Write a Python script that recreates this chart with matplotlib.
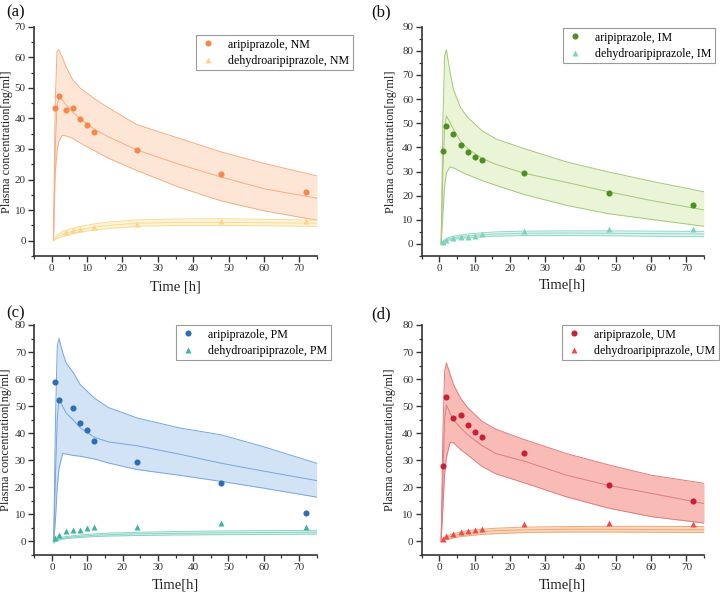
import matplotlib
matplotlib.use("Agg")
import matplotlib.pyplot as plt
from matplotlib.ticker import MultipleLocator

plt.rcParams['font.family'] = ['Liberation Serif', 'DejaVu Serif']

# ---------------- data ----------------
t_obs = [1, 2, 4, 6, 8, 10, 12, 24, 48, 72]
t_obs_a_dh = [4, 6, 8, 12, 24, 48, 72]

aripip_NM = [43.5, 47.3, 42.9, 43.5, 39.8, 37.7, 35.4, 29.8, 21.8, 16.0]
dehydro_NM = [3.0, 3.6, 3.8, 4.6, 5.6, 6.6, 6.3]
aripip_IM = [38.5, 48.8, 45.5, 40.9, 38.2, 35.9, 34.9, 29.3, 21.3, 16.3]
dehydro_IM = [1.0, 1.8, 2.5, 2.8, 2.9, 3.3, 4.0, 5.2, 6.0, 6.3]
aripip_PM = [58.9, 52.4, None, 49.5, 43.6, 41.1, 37.0, 29.4, 21.5, 10.5]
dehydro_PM = [1.3, 2.3, 3.7, 4.3, 4.3, 4.9, 5.3, 5.5, 7.0, 5.3]
aripip_UM = [27.8, 53.3, 45.8, 46.9, 43.0, 40.5, 38.5, 32.7, 20.9, 15.1]
dehydro_UM = [0.9, 2.1, 2.7, 3.6, 3.8, 4.1, 4.7, 6.5, 6.9, 6.6]

# simulated curves
t_sim = [0.5, 1, 1.5, 2, 3, 4, 6, 8, 12, 16, 24, 36, 48, 60, 75]

NM_up = [0, 45, 62, 62.5, 60, 57, 52.5, 50, 46.5, 43.5, 38, 33.5, 29, 25.3, 21.2]
NM_med = [0, 30, 44, 47, 46, 44.5, 42, 40, 36.5, 34, 29.7, 25, 20.8, 17, 13.9]
NM_lo = [0, 22, 29, 32.5, 34.5, 34.3, 33.5, 32, 29.5, 27, 23, 17.5, 13, 9.8, 6.7]
NMd_up = [0, 1.2, 1.8, 2.3, 2.9, 3.4, 4.1, 4.7, 5.5, 6.1, 6.8, 7.1, 7.2, 7.0, 6.7]
NMd_med = [0, 0.8, 1.2, 1.6, 2.0, 2.4, 3.1, 3.6, 4.4, 5.0, 5.7, 6.0, 6.0, 5.9, 5.7]
NMd_lo = [0, 0.4, 0.7, 1.0, 1.3, 1.6, 2.3, 2.8, 3.5, 4.0, 4.7, 5.0, 5.0, 4.9, 4.7]

IM_up = [0, 50, 78, 80.5, 71.5, 64, 56.5, 52.5, 47, 43.5, 39.5, 34, 29.8, 26, 21.6]
IM_med = [0, 30, 48, 53, 50.5, 47.5, 42.5, 39.5, 35.5, 33, 29.3, 25.5, 21.6, 18, 14.1]
IM_lo = [0, 12, 24, 29.5, 31.9, 31.5, 30, 28.7, 26.3, 24.3, 20.5, 16, 12.5, 10.2, 7.3]
IMd_up = [0, 1.1, 1.7, 2.2, 2.8, 3.2, 3.7, 4.1, 4.6, 5.0, 5.3, 5.4, 5.4, 5.3, 5.2]
IMd_med = [0, 0.8, 1.3, 1.7, 2.2, 2.5, 3.0, 3.3, 3.8, 4.1, 4.4, 4.5, 4.4, 4.3, 4.1]
IMd_lo = [0, 0.5, 0.9, 1.2, 1.6, 1.9, 2.3, 2.6, 3.0, 3.2, 3.5, 3.5, 3.4, 3.2, 3.0]

PM_up = [0, 45, 72, 75, 70, 66, 62.5, 58, 53, 49.5, 45.7, 42, 39.4, 35, 28.9]
PM_med = [0, 25, 45, 53, 50, 47.5, 45, 42, 38.5, 36.8, 35.4, 32.3, 28.9, 26, 22.5]
PM_lo = [0, 8, 20, 27, 32.5, 32.3, 31.8, 31.5, 30.5, 29, 26.6, 24.5, 22.2, 19.7, 16.4]
PMd_up = [0, 0.7, 1.0, 1.3, 1.6, 1.8, 2.1, 2.4, 2.8, 3.1, 3.4, 3.7, 3.9, 4.0, 4.1]
PMd_med = [-0.3, 0.4, 0.7, 0.9, 1.2, 1.4, 1.7, 1.9, 2.3, 2.5, 2.8, 3.0, 3.2, 3.3, 3.4]
PMd_lo = [-0.6, 0.0, 0.3, 0.5, 0.8, 1.0, 1.3, 1.5, 1.8, 2.0, 2.2, 2.4, 2.5, 2.6, 2.7]

UM_up = [0, 40, 63, 66, 62, 58, 53, 49.5, 44.5, 41.5, 37.7, 32.5, 28.3, 24.5, 21.5]
UM_med = [0, 25, 45, 50.5, 47.5, 45, 42, 39.5, 35.5, 32.5, 29.7, 24.5, 20.7, 17.8, 14.0]
UM_lo = [0, 12, 25, 31, 36.5, 36.5, 34, 32, 27.8, 25, 21.7, 16.5, 12.3, 9.2, 6.8]
UMd_up = [0, 1.1, 1.6, 2.0, 2.5, 2.9, 3.5, 4.0, 4.5, 4.9, 5.3, 5.5, 5.6, 5.6, 5.5]
UMd_med = [0, 0.7, 1.1, 1.4, 1.8, 2.1, 2.7, 3.1, 3.6, 4.0, 4.3, 4.5, 4.5, 4.4, 4.3]
UMd_lo = [0, 0.3, 0.5, 0.7, 1.0, 1.3, 1.8, 2.1, 2.6, 2.9, 3.3, 3.5, 3.5, 3.4, 3.3]

W, H = 720, 594
fig = plt.figure(figsize=(7.2, 5.94), dpi=100)


def make_ax(left, right, top, bottom):
    return fig.add_axes([left / W, 1 - bottom / H, (right - left) / W, (bottom - top) / H])


panels = [
    dict(box=(34, 317, 26.7, 256), ylim=(-5, 70), letter='(a)', lpos=(6, 4),
         xlabel='Time [h]', xl_y=-0.105, yl_x=-0.074,
         obs=(t_obs, aripip_NM, t_obs_a_dh, dehydro_NM),
         sim=(NM_lo, NM_med, NM_up, NMd_lo, NMd_med, NMd_up),
         c=dict(pt='#F5874A', fill='#FDE6D6', line='#F6AD85',
                pt2='#FBD58A', fill2='#FEF4DA', line2='#F9DB95'),
         labels=('aripiprazole, NM', 'dehydroaripiprazole, NM'),
         leg=(196, 35, 351, 67)),
    dict(box=(421.7, 704, 26.7, 256), ylim=(-5, 90), letter='(b)', lpos=(371, 4),
         xlabel='Time[h]', xl_y=-0.1, yl_x=-0.0875,
         obs=(t_obs, aripip_IM, t_obs, dehydro_IM),
         sim=(IM_lo, IM_med, IM_up, IMd_lo, IMd_med, IMd_up),
         c=dict(pt='#4F8E22', fill='#E9F5D6', line='#A5C77A',
                pt2='#7FD1BE', fill2='#E0F5F0', line2='#8FD8C8'),
         labels=('aripiprazole, IM', 'dehydroaripiprazole, IM'),
         leg=(563, 28, 713, 59)),
    dict(box=(34.3, 316.7, 325, 555), ylim=(-5, 80), letter='(c)', lpos=(6, 305),
         xlabel='Time[h]', xl_y=-0.104, yl_x=-0.079,
         obs=(t_obs, aripip_PM, t_obs, dehydro_PM),
         sim=(PM_lo, PM_med, PM_up, PMd_lo, PMd_med, PMd_up),
         c=dict(pt='#2F6DB5', fill='#D2E3F5', line='#78A6DB',
                pt2='#3FB3A3', fill2='#DDF3EF', line2='#8AD3C6'),
         labels=('aripiprazole, PM', 'dehydroaripiprazole, PM'),
         leg=(176, 325, 329, 357)),
    dict(box=(421.7, 704, 325, 555), ylim=(-5, 80), letter='(d)', lpos=(371, 306),
         xlabel='Time[h]', xl_y=-0.104, yl_x=-0.09,
         obs=(t_obs, aripip_UM, t_obs, dehydro_UM),
         sim=(UM_lo, UM_med, UM_up, UMd_lo, UMd_med, UMd_up),
         c=dict(pt='#C91F37', fill='#F8BBB5', line='#DE7C84',
                pt2='#EE4A4B', fill2='#FBD8BE', line2='#F0A676'),
         labels=('aripiprazole, UM', 'dehydroaripiprazole, UM'),
         leg=(562, 325, 716, 356)),
]

for p in panels:
    ax = make_ax(*p['box'])
    c = p['c']
    lo, med, up, dlo, dmed, dup = p['sim']
    # aripiprazole band
    ax.fill_between(t_sim, lo, up, color=c['fill'], lw=0, zorder=1)
    for arr in (lo, med, up):
        ax.plot(t_sim, arr, color=c['line'], lw=0.7, zorder=2)
    # dehydro band
    ax.fill_between(t_sim, dlo, dup, color=c['fill2'], lw=0, zorder=1)
    for arr in (dlo, dmed, dup):
        ax.plot(t_sim, arr, color=c['line2'], lw=0.7, zorder=2)
    tx, y1, tx2, y2 = p['obs']
    px = [a for a, b in zip(tx, y1) if b is not None]
    py = [b for b in y1 if b is not None]
    h1, = ax.plot(px, py, 'o', color=c['pt'], ms=4.4, mec='none', zorder=4,
                  label=p['labels'][0])
    h2, = ax.plot(tx2, y2, '^', color=c['pt2'], ms=4.8, mec='none', zorder=4,
                  label=p['labels'][1])

    ax.set_xlim(-5, 75)
    ax.set_ylim(*p['ylim'])
    ax.xaxis.set_major_locator(MultipleLocator(10))
    ax.xaxis.set_minor_locator(MultipleLocator(5))
    ax.yaxis.set_major_locator(MultipleLocator(10))
    ax.yaxis.set_minor_locator(MultipleLocator(5))
    ax.set_xticks([0, 10, 20, 30, 40, 50, 60, 70])
    ax.set_yticks(list(range(0, p['ylim'][1] + 1, 10)))
    for s in ('top', 'right'):
        ax.spines[s].set_visible(False)
    for s in ('left', 'bottom'):
        ax.spines[s].set_color('#333333')
        ax.spines[s].set_linewidth(1.2)
    ax.tick_params(which='major', direction='out', length=4, width=1,
                   labelsize=8, colors='#333333', pad=2)
    ax.tick_params(which='minor', direction='out', length=2.2, width=0.9,
                   colors='#333333')
    ax.set_xlabel(p['xlabel'], fontsize=10.5, color='#222222')
    ax.xaxis.set_label_coords(0.5, p['xl_y'])
    ax.set_ylabel('Plasma concentration[ng/ml]', fontsize=8.8, color='#222222')
    ax.yaxis.set_label_coords(p['yl_x'], 0.5)

    fig.text(p['lpos'][0] / W, 1 - p['lpos'][1] / H, p['letter'], fontsize=12,
             ha='left', va='top', color='#111111')

    lx0, ly0, lx1, ly1 = p['leg']
    leg = ax.legend(handles=[h1, h2], loc='upper left',
                    bbox_to_anchor=(lx0 / W, 1 - ly0 / H),
                    bbox_transform=fig.transFigure, fontsize=8.6,
                    frameon=True, fancybox=False, framealpha=1,
                    edgecolor='#9a9a9a', borderpad=0.3, labelspacing=0.35,
                    handlelength=1.4, handletextpad=1.0, borderaxespad=0)
    leg.get_frame().set_linewidth(0.8)

fig.savefig('out.png', dpi=100)
